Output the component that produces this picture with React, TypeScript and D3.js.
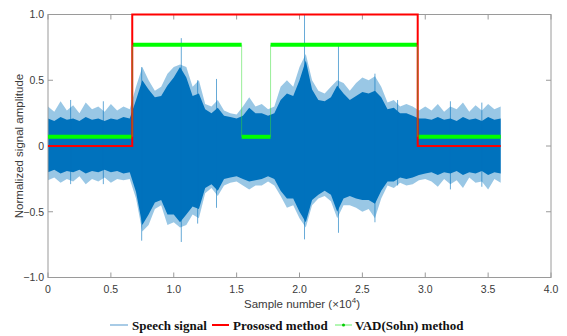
import React, { useEffect, useRef } from "react";
import * as d3 from "d3";

const W = 567;
const H = 336;

// axis ticks
const xTicks = [0, 0.5, 1.0, 1.5, 2.0, 2.5, 3.0, 3.5, 4.0];
const yTicks = [-1, -0.5, 0, 0.5, 1];

// speech signal envelope, one reading every 0.05 (x10^4 samples)
const envStep = 0.05;
const topPeak = [
  0.30, 0.26, 0.34, 0.27, 0.31, 0.25, 0.33, 0.28, 0.30, 0.26, 0.32, 0.27, 0.30, 0.28,
  0.45, 0.60, 0.50, 0.42, 0.45, 0.55, 0.60,
  0.62, 0.60, 0.45, 0.50, 0.32, 0.30, 0.35, 0.27, 0.25, 0.24,
  0.30, 0.37, 0.30, 0.32, 0.28, 0.30, 0.45, 0.50, 0.45, 0.60,
  0.70, 0.50, 0.42, 0.40, 0.45, 0.50, 0.48, 0.42, 0.48, 0.52,
  0.50, 0.53, 0.45, 0.33, 0.35, 0.30, 0.32, 0.30, 0.27, 0.30,
  0.27, 0.32, 0.26, 0.30, 0.28, 0.33, 0.26, 0.31, 0.27, 0.32, 0.28, 0.30,
];
const topCore = [
  0.21, 0.19, 0.22, 0.20, 0.21, 0.19, 0.22, 0.20, 0.21, 0.19, 0.21, 0.20, 0.22, 0.21,
  0.35, 0.50, 0.43, 0.37, 0.38, 0.46, 0.52,
  0.60, 0.52, 0.38, 0.40, 0.28, 0.25, 0.29, 0.23, 0.22, 0.21,
  0.23, 0.29, 0.25, 0.25, 0.23, 0.25, 0.35, 0.40, 0.38, 0.50,
  0.65, 0.43, 0.35, 0.34, 0.37, 0.46, 0.40, 0.35, 0.38, 0.41,
  0.40, 0.42, 0.37, 0.28, 0.29, 0.25, 0.25, 0.23, 0.21, 0.21,
  0.20, 0.22, 0.20, 0.21, 0.19, 0.22, 0.20, 0.21, 0.19, 0.22, 0.20, 0.21,
];
const botCore = [
  -0.20, -0.18, -0.21, -0.19, -0.20, -0.18, -0.21, -0.19, -0.20, -0.18, -0.20, -0.19, -0.21, -0.20,
  -0.35, -0.60, -0.52, -0.43, -0.41, -0.52, -0.52,
  -0.58, -0.52, -0.46, -0.48, -0.32, -0.29, -0.34, -0.25, -0.24, -0.23,
  -0.25, -0.27, -0.26, -0.25, -0.23, -0.25, -0.34, -0.40, -0.40, -0.50,
  -0.58, -0.41, -0.37, -0.34, -0.37, -0.50, -0.40, -0.38, -0.40, -0.41,
  -0.41, -0.44, -0.34, -0.27, -0.27, -0.24, -0.25, -0.24, -0.22, -0.21,
  -0.20, -0.22, -0.20, -0.21, -0.19, -0.22, -0.20, -0.21, -0.19, -0.22, -0.20, -0.21,
];
const botPeak = [
  -0.26, -0.24, -0.28, -0.25, -0.27, -0.23, -0.29, -0.25, -0.27, -0.24, -0.28, -0.25, -0.26, -0.25,
  -0.40, -0.65, -0.60, -0.48, -0.45, -0.60, -0.58,
  -0.62, -0.60, -0.52, -0.55, -0.36, -0.32, -0.38, -0.30, -0.28, -0.27,
  -0.30, -0.33, -0.30, -0.30, -0.27, -0.30, -0.38, -0.47, -0.45, -0.55,
  -0.62, -0.45, -0.40, -0.38, -0.42, -0.55, -0.45, -0.45, -0.47, -0.50,
  -0.48, -0.55, -0.40, -0.30, -0.32, -0.28, -0.30, -0.29, -0.26, -0.25,
  -0.27, -0.31, -0.25, -0.29, -0.26, -0.32, -0.24, -0.28, -0.27, -0.33, -0.25, -0.28,
];
// isolated thin peaks: [x, top, bottom]
const spikes: [number, number, number][] = [
  [0.18, 0.35, -0.29],
  [0.44, 0.34, -0.29],
  [0.745, 0.6, -0.72],
  [1.06, 0.82, -0.73],
  [1.19, 0.5, -0.59],
  [1.34, 0.51, -0.47],
  [2.04, 1.0, -0.71],
  [2.31, 0.77, -0.66],
  [2.6, 0.55, -0.58],
  [2.78, 0.35, -0.3],
  [3.2, 0.34, -0.33],
  [3.45, 0.33, -0.31],
];

// detection results
const proposedEdges = [0, 0.67, 2.94, 3.6];
const proposedLevels = [0, 1, 0];
const vadEdges = [0, 0.67, 1.54, 1.77, 2.94, 3.6];
const vadLevels = [0.07, 0.77, 0.07, 0.77, 0.07];

const margin = { left: 48, right: 16, top: 14.5, bottom: 58.5 };

const App = () => {
  const svgRef = useRef(null);

  useEffect(() => {
    const svg = d3.select(svgRef.current);
    svg.selectAll("*").remove();

    const x = d3.scaleLinear().domain([0, 4]).range([margin.left, W - margin.right]);
    const y = d3.scaleLinear().domain([-1, 1]).range([H - margin.bottom, margin.top]);
    const axisCol = "#9a9a9a";
    const textCol = "#3a3a3a";
    const font = "'Liberation Sans', Arial, sans-serif";

    // signal
    const idx = topPeak.map((_, i) => i);
    const outer = d3
      .area<number>()
      .x((i) => x(i * envStep))
      .y0((i) => y(botPeak[i]))
      .y1((i) => y(topPeak[i]));
    const core = d3
      .area<number>()
      .x((i) => x(i * envStep))
      .y0((i) => y(botCore[i]))
      .y1((i) => y(topCore[i]));
    svg.append("path").attr("d", outer(idx)).attr("fill", "#0072BD").attr("fill-opacity", 0.4);
    svg.append("path").attr("d", core(idx)).attr("fill", "#0072BD");
    svg
      .selectAll("line.spike")
      .data(spikes)
      .join("line")
      .attr("class", "spike")
      .attr("x1", (d) => x(d[0]))
      .attr("x2", (d) => x(d[0]))
      .attr("y1", (d) => y(d[1]))
      .attr("y2", (d) => y(d[2]))
      .attr("stroke", "#0072BD")
      .attr("stroke-opacity", 0.6)
      .attr("stroke-width", 1);

    // axes box
    const g = svg.append("g");
    g.append("rect")
      .attr("x", x(0))
      .attr("y", y(1))
      .attr("width", x(4) - x(0))
      .attr("height", y(-1) - y(1))
      .attr("fill", "none")
      .attr("stroke", axisCol);
    xTicks.forEach((t) => {
      g.append("line").attr("x1", x(t)).attr("x2", x(t)).attr("y1", y(-1)).attr("y2", y(-1) - 5).attr("stroke", axisCol);
      g.append("line").attr("x1", x(t)).attr("x2", x(t)).attr("y1", y(1)).attr("y2", y(1) + 5).attr("stroke", axisCol);
      g.append("text")
        .attr("x", x(t))
        .attr("y", y(-1) + 15.5)
        .attr("text-anchor", "middle")
        .attr("font-family", font)
        .attr("font-size", 10.5)
        .attr("fill", textCol)
        .text(t === 0 ? "0" : d3.format(".1f")(t));
    });
    yTicks.forEach((t) => {
      g.append("line").attr("x1", x(0)).attr("x2", x(0) + 5).attr("y1", y(t)).attr("y2", y(t)).attr("stroke", axisCol);
      g.append("line").attr("x1", x(4)).attr("x2", x(4) - 5).attr("y1", y(t)).attr("y2", y(t)).attr("stroke", axisCol);
      g.append("text")
        .attr("x", x(0) - 4)
        .attr("y", y(t) + 3.8)
        .attr("text-anchor", "end")
        .attr("font-family", font)
        .attr("font-size", 10.5)
        .attr("fill", textCol)
        .text(t === 0 ? "0" : d3.format(".1f")(t));
    });

    // VAD (Sohn) result
    vadLevels.forEach((v, i) => {
      svg
        .append("line")
        .attr("x1", x(vadEdges[i]))
        .attr("x2", x(vadEdges[i + 1]))
        .attr("y1", y(v))
        .attr("y2", y(v))
        .attr("stroke", "#00ff00")
        .attr("stroke-width", 4);
    });

    // proposed method
    const stepPts: [number, number][] = proposedLevels.map((v, i) => [proposedEdges[i], v]);
    stepPts.push([proposedEdges[proposedEdges.length - 1], proposedLevels[proposedLevels.length - 1]]);
    const step = d3
      .line<[number, number]>()
      .x((d) => x(d[0]))
      .y((d) => y(d[1]))
      .curve(d3.curveStepAfter);
    svg.append("path").attr("d", step(stepPts)).attr("fill", "none").attr("stroke", "#ff0000").attr("stroke-width", 2);

    // thin VAD transitions
    vadLevels.slice(1).forEach((v, i) => {
      svg
        .append("line")
        .attr("x1", x(vadEdges[i + 1]))
        .attr("x2", x(vadEdges[i + 1]))
        .attr("y1", y(vadLevels[i]))
        .attr("y2", y(v))
        .attr("stroke", "#33dd33")
        .attr("stroke-opacity", 0.5)
        .attr("stroke-width", 1);
    });

    // labels
    svg
      .append("text")
      .attr("transform", `translate(23,${y(0)}) rotate(-90)`)
      .attr("text-anchor", "middle")
      .attr("font-family", font)
      .attr("font-size", 11.5)
      .attr("fill", textCol)
      .text("Normalized signal amplitude");
    const xl = svg
      .append("text")
      .attr("x", 302)
      .attr("y", 308)
      .attr("text-anchor", "middle")
      .attr("font-family", font)
      .attr("font-size", 11.5)
      .attr("fill", textCol);
    xl.append("tspan").text("Sample number (×10");
    xl.append("tspan").attr("dy", -5).attr("font-size", 8).text("4");
    xl.append("tspan").attr("dy", 5).text(")");

    // legend
    const lg = svg.append("g").attr("font-family", "'Liberation Serif', 'Times New Roman', serif").attr("font-weight", "bold").attr("font-size", 13).attr("fill", "#111");
    const ly = 325;
    lg.append("line").attr("x1", 110).attr("x2", 128).attr("y1", ly).attr("y2", ly).attr("stroke", "#6fa8d6").attr("stroke-width", 1.2);
    lg.append("text").attr("x", 132).attr("y", ly + 4.5).text("Speech signal");
    lg.append("line").attr("x1", 212).attr("x2", 229).attr("y1", ly).attr("y2", ly).attr("stroke", "#ff0000").attr("stroke-width", 2);
    lg.append("text").attr("x", 233).attr("y", ly + 4.5).text("Prososed method");
    lg.append("line").attr("x1", 335).attr("x2", 352).attr("y1", ly).attr("y2", ly).attr("stroke", "#66ee66").attr("stroke-width", 1);
    lg.append("circle").attr("cx", 343.5).attr("cy", ly).attr("r", 1.5).attr("fill", "#00cc00");
    lg.append("text").attr("x", 355).attr("y", ly + 4.5).text("VAD(Sohn) method");
  }, []);

  return (
    <div style={{ position: "absolute", left: 0, top: 0 }}>
      <svg ref={svgRef} width={W} height={H} style={{ display: "block", background: "#fff" }}></svg>
    </div>
  );
};

export default App;
